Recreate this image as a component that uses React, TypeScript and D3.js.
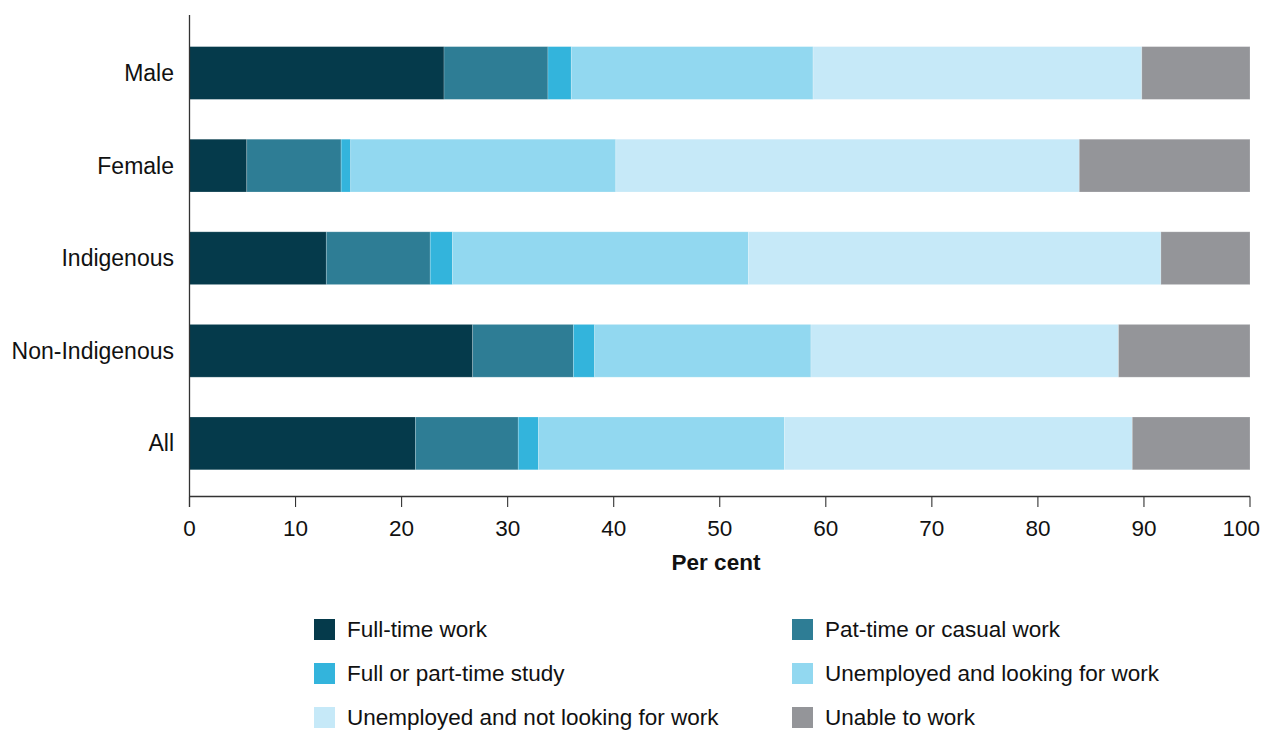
import React from "react";
import * as d3 from "d3";

const categories = ["Male", "Female", "Indigenous", "Non-Indigenous", "All"];
const seriesNames = [
  "Full-time work",
  "Pat-time or casual work",
  "Full or part-time study",
  "Unemployed and looking for work",
  "Unemployed and not looking for work",
  "Unable to work",
];
const fullTime = [24.0, 5.4, 12.9, 26.7, 21.3];
const partTime = [9.8, 8.9, 9.8, 9.5, 9.7];
const study = [2.2, 0.9, 2.1, 2.0, 1.9];
const unempLooking = [22.8, 25.0, 27.9, 20.4, 23.2];
const unempNotLooking = [31.0, 43.7, 38.9, 29.0, 32.8];
const unable = [10.2, 16.1, 8.4, 12.4, 11.1];
const xTicks = [0, 10, 20, 30, 40, 50, 60, 70, 80, 90, 100];
const colors = ["#053a4b", "#2e7d95", "#33b4dc", "#92d8f0", "#c6e9f8", "#949599"];

const seriesValues = [fullTime, partTime, study, unempLooking, unempNotLooking, unable];

export default function App() {
  const width = 1261;
  const height = 731;
  const font = "'Liberation Sans', Arial, sans-serif";
  const x = d3.scaleLinear().domain([0, 100]).range([189.5, 1250]);
  const y = d3
    .scaleBand<string>()
    .domain(categories)
    .range([26.7, 489.7])
    .paddingInner(0.43)
    .paddingOuter(0.215);

  const rows = categories.map((c, i) => {
    const r: any = { cat: c };
    seriesNames.forEach((s, j) => (r[s] = seriesValues[j][i]));
    return r;
  });
  const stacked = d3.stack<any>().keys(seriesNames)(rows);
  const axisY = 496.5;

  const legendCols = [314, 792];
  const legendRows = [629.5, 673.5, 717.5];
  const fs = 22.5;

  return (
    <svg
      width={width}
      height={height}
      style={{ position: "absolute", left: 0, top: 0, background: "#fff" }}
      fontFamily={font}
    >
      {stacked.map((layer, j) => (
        <g key={j} fill={colors[j]}>
          {layer.map((d, i) => (
            <rect
              key={i}
              x={x(d[0])}
              y={y(categories[i])!}
              width={x(d[1]) - x(d[0])}
              height={y.bandwidth()}
              stroke="#ffffff"
              strokeOpacity={0.25}
              strokeWidth={0.8}
            />
          ))}
        </g>
      ))}
      {/* y axis */}
      <line x1={189.5} x2={189.5} y1={15} y2={507} stroke="#333" strokeWidth={1.3} />
      {categories.map((c) => (
        <text
          key={c}
          x={174}
          y={y(c)! + y.bandwidth() / 2}
          textAnchor="end"
          dominantBaseline="central"
          fontSize={23}
          fill="#111"
        >
          {c}
        </text>
      ))}
      {/* x axis */}
      <line x1={189.5} x2={1250} y1={axisY} y2={axisY} stroke="#333" strokeWidth={1.3} />
      {xTicks.map((t, i) => {
        const last = i === xTicks.length - 1;
        return (
          <g key={t}>
            <line x1={x(t)} x2={x(t)} y1={axisY} y2={507} stroke="#333" strokeWidth={1.1} />
            <text
              x={last ? 1260 : x(t)}
              y={528}
              textAnchor={last ? "end" : "middle"}
              dominantBaseline="central"
              fontSize={fs}
              fill="#111"
            >
              {t}
            </text>
          </g>
        );
      })}
      <text
        x={716}
        y={562}
        textAnchor="middle"
        dominantBaseline="central"
        fontSize={fs}
        fontWeight="bold"
        fill="#111"
      >
        Per cent
      </text>
      {/* legend */}
      {seriesNames.map((s, j) => {
        const cx = legendCols[j % 2];
        const cy = legendRows[Math.floor(j / 2)];
        return (
          <g key={s}>
            <rect x={cx} y={cy - 10.5} width={21} height={21} fill={colors[j]} />
            <text
              x={cx + 33}
              y={cy}
              dominantBaseline="central"
              fontSize={fs}
              fill="#111"
            >
              {s}
            </text>
          </g>
        );
      })}
    </svg>
  );
}
